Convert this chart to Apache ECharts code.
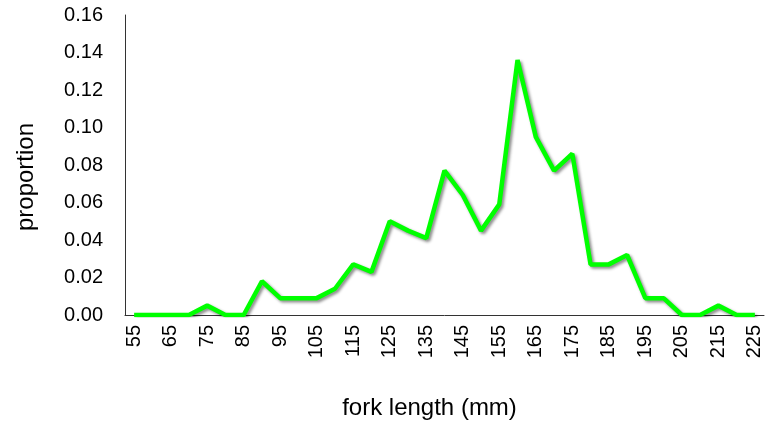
<!DOCTYPE html>
<html>
<head>
<meta charset="utf-8">
<script src="https://cdn.jsdelivr.net/npm/echarts@6/dist/echarts.min.js"></script>
<style>html,body{margin:0;padding:0;background:#fff;}#c{width:769px;height:426px;}</style>
</head>
<body>
<div id="c"></div>
<script>
var categories = ['55','60','65','70','75','80','85','90','95','100','105','110','115','120','125','130','135','140','145','150','155','160','165','170','175','180','185','190','195','200','205','210','215','220','225'];
var proportion = [0,0,0,0,0.005,0,0,0.018,0.009,0.009,0.009,0.014,0.027,0.023,0.050,0.045,0.041,0.077,0.064,0.045,0.059,0.136,0.095,0.077,0.086,0.027,0.027,0.032,0.009,0.009,0,0,0.005,0,0];
var yTicks = {min: 0, max: 0.16, interval: 0.02};
var xTitle = 'fork length (mm)';
var yTitle = 'proportion';

var chart = echarts.init(document.getElementById('c'), null, {renderer: 'canvas'});
chart.setOption({
  animation: false,
  backgroundColor: '#ffffff',
  grid: {left: 125, top: 15, right: 5, bottom: 111, containLabel: false},
  xAxis: {
    type: 'category',
    data: categories,
    boundaryGap: true,
    name: xTitle,
    nameLocation: 'middle',
    nameGap: 81,
    nameTextStyle: {fontFamily: 'Liberation Sans, Arial', fontSize: 24, color: '#000', padding: [0, 30, 0, 0]},
    axisLine: {lineStyle: {color: '#333', width: 1}},
    axisTick: {show: false},
    axisLabel: {interval: 1, rotate: 90, margin: 10, fontFamily: 'Liberation Sans, Arial', fontSize: 20, color: '#000'},
    splitLine: {show: false}
  },
  yAxis: {
    type: 'value',
    min: yTicks.min, max: yTicks.max, interval: yTicks.interval,
    name: yTitle,
    nameLocation: 'middle',
    nameGap: 87,
    nameTextStyle: {fontFamily: 'Liberation Sans, Arial', fontSize: 24, color: '#000', padding: [0, 24, 0, 0]},
    axisLine: {show: true, lineStyle: {color: '#333', width: 1}},
    axisTick: {show: false},
    axisLabel: {margin: 22, fontFamily: 'Liberation Sans, Arial', fontSize: 20, color: '#000', formatter: function(v){return v.toFixed(2);}},
    splitLine: {show: false}
  },
  series: [{
    type: 'line',
    data: proportion,
    symbol: 'none',
    lineStyle: {color: '#00ff00', width: 4.5, shadowColor: 'rgba(0,0,0,0.45)', shadowBlur: 3, shadowOffsetX: 2, shadowOffsetY: 2},
    itemStyle: {color: '#00ff00'}
  }]
});
</script>
</body>
</html>
